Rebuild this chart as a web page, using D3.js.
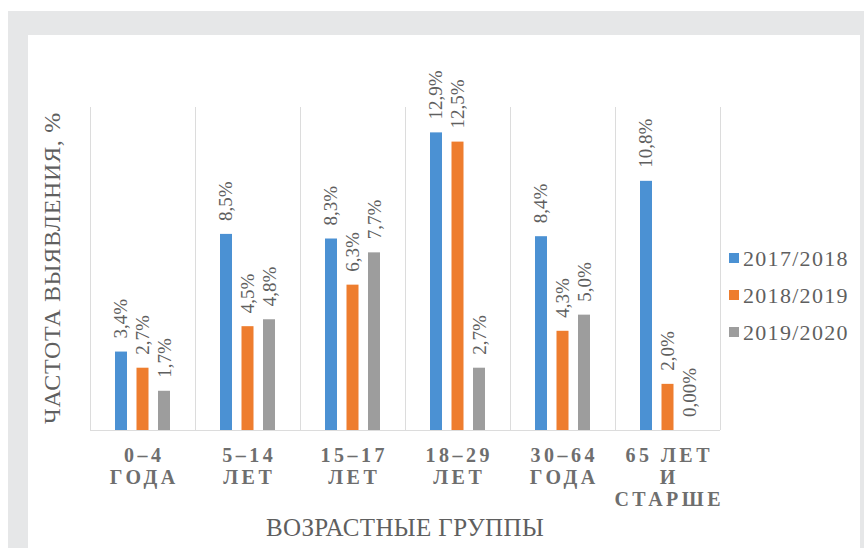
<!DOCTYPE html>
<meta charset='utf-8'>
<style>
  body { margin: 0; }
  .grid { stroke: #dcdcdc; stroke-width: 1; }
</style>
<svg width='864' height='548'></svg>
<script src="https://d3js.org/d3.v7.min.js"></script>
<script>
  // data
  var groups = ['0-4', '5-14', '15-17', '18-29', '30-64', '65+'];
  var groupLabels = [
    ['0–4', 'ГОДА'],
    ['5–14', 'ЛЕТ'],
    ['15–17', 'ЛЕТ'],
    ['18–29', 'ЛЕТ'],
    ['30–64', 'ГОДА'],
    ['65 ЛЕТ', 'И', 'СТАРШЕ']
  ];
  var seasons = ['2017/2018', '2018/2019', '2019/2020'];
  var v2017 = [3.4, 8.5, 8.3, 12.9, 8.4, 10.8];
  var v2018 = [2.7, 4.5, 6.3, 12.5, 4.3, 2.0];
  var v2019 = [1.7, 4.8, 7.7, 2.7, 5.0, 0];
  var colors = ['#4b91d3', '#ee7d2e', '#9d9d9d'];

  var series = [v2017, v2018, v2019];
  var serif = "'Liberation Serif'";

  var svg = d3.select('svg');

  // frame
  svg.append('rect').attr('width', 864).attr('height', 548).attr('fill', '#fff');
  svg.append('rect').attr('x', 8).attr('y', 11).attr('width', 856).attr('height', 537).attr('fill', '#e6e7e8');
  svg.append('rect').attr('x', 28).attr('y', 35).attr('width', 832).attr('height', 513).attr('fill', '#fff');

  var x0 = d3.scaleBand().domain(groups).range([90, 720]);
  var x1 = d3.scaleBand().domain(seasons).range([25, 80]).paddingInner(0.442).paddingOuter(0);
  var y = d3.scaleLinear().domain([0, 14]).range([430, 107]);
  var color = d3.scaleOrdinal().domain(seasons).range(colors);

  // vertical separators
  var bounds = groups.map(function(g) { return x0(g); }).concat([x0.range()[1]]);
  svg.append('g').selectAll('line').data(bounds).enter().append('line')
    .attr('class', 'grid')
    .attr('x1', function(d) { return d + 0.5; })
    .attr('x2', function(d) { return d + 0.5; })
    .attr('y1', y(14))
    .attr('y2', y(0));

  svg.append('line').attr('class', 'grid')
    .attr('x1', x0.range()[0]).attr('x2', x0.range()[1])
    .attr('y1', y(0) + 0.5).attr('y2', y(0) + 0.5);

  function fmt(v) {
    if (v === 0) return '0,00%';
    return d3.format('.1f')(v).replace('.', ',') + '%';
  }

  var rows = [];
  groups.forEach(function(g, i) {
    seasons.forEach(function(s, j) {
      rows.push({ group: g, season: s, value: series[j][i] });
    });
  });

  var bars = svg.append('g');
  bars.selectAll('rect').data(rows).enter().append('rect')
    .attr('x', function(d) { return x0(d.group) + x1(d.season); })
    .attr('width', x1.bandwidth())
    .attr('y', function(d) { return y(d.value); })
    .attr('height', function(d) { return y(0) - y(d.value); })
    .attr('fill', function(d) { return color(d.season); });

  bars.selectAll('text').data(rows).enter().append('text')
    .attr('transform', function(d) {
      var cx = x0(d.group) + x1(d.season) + x1.bandwidth() / 2 + 6.5;
      return 'translate(' + cx + ',' + (y(d.value) - 13) + ') rotate(-90)';
    })
    .style('font-family', serif)
    .style('font-size', '19px')
    .style('fill', '#5f5f5f')
    .text(function(d) { return fmt(d.value); });

  // category labels
  var xl = svg.append('g').selectAll('text').data(groups).enter().append('text')
    .attr('text-anchor', 'middle')
    .style('font-family', serif)
    .style('font-size', '20px')
    .style('font-weight', 'bold')
    .style('letter-spacing', '3.5px')
    .style('fill', '#6e6e6e');
  xl.each(function(g, i) {
    var t = d3.select(this);
    groupLabels[i].forEach(function(line, k) {
      t.append('tspan')
        .attr('x', x0(g) + x0.bandwidth() / 2 + 1.75)
        .attr('y', 462 + k * 22)
        .text(line);
    });
  });

  svg.append('text')
    .attr('x', 405).attr('y', 536)
    .attr('text-anchor', 'middle')
    .style('font-family', serif)
    .style('font-size', '25px')
    .style('letter-spacing', '0.4px')
    .style('fill', '#5f5f5f')
    .text('ВОЗРАСТНЫЕ ГРУППЫ');

  svg.append('text')
    .attr('transform', 'translate(60,268) rotate(-90)')
    .attr('text-anchor', 'middle')
    .style('font-family', serif)
    .style('font-size', '24px')
    .style('letter-spacing', '0.7px')
    .style('fill', '#5f5f5f')
    .text('ЧАСТОТА ВЫЯВЛЕНИЯ, %');

  // legend
  var lg = svg.append('g').selectAll('g').data(seasons).enter().append('g')
    .attr('transform', function(d, i) { return 'translate(729,' + (258 + i * 37) + ')'; });
  lg.append('rect')
    .attr('x', 0).attr('y', -5).attr('width', 10).attr('height', 10)
    .attr('fill', function(d) { return color(d); });
  lg.append('text')
    .attr('x', 14).attr('y', 7.5)
    .style('font-family', serif)
    .style('font-size', '22px')
    .style('letter-spacing', '1.3px')
    .style('fill', '#5f5f5f')
    .text(function(d) { return d; });
</script>
